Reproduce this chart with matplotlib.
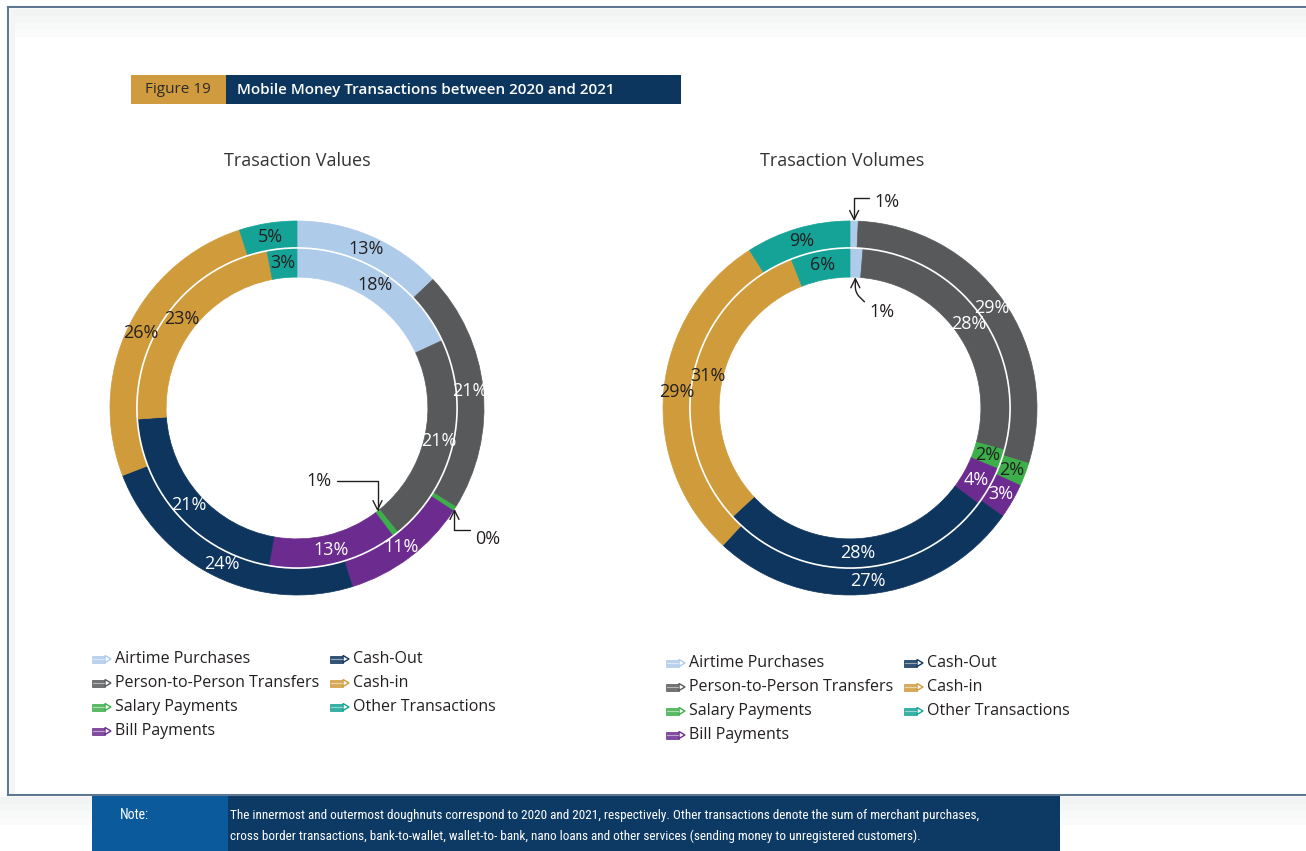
import numpy as np
import matplotlib
matplotlib.use("Agg")
import matplotlib.pyplot as plt
from matplotlib.patches import Rectangle, Polygon, Circle
from matplotlib import font_manager as fm

categories = ["Airtime Purchases", "Person-to-Person Transfers", "Salary Payments",
              "Bill Payments", "Cash-Out", "Cash-in", "Other Transactions"]

# shares in percent, clockwise from 12 o'clock
values_2020 = [18, 21, 0.6, 13, 21, 23, 3]
values_2021 = [13, 21, 0.4, 11, 24, 26, 5]
volumes_2020 = [1.3, 28, 2, 4, 28, 31, 6]
volumes_2021 = [0.7, 29, 2, 3, 27, 29, 9]

note_lines = ["The innermost and outermost doughnuts correspond to 2020 and 2021, respectively. "
              "Other transactions denote the sum of merchant purchases,",
              "cross border transactions, bank-to-wallet, wallet-to- bank, nano loans and other "
              "services (sending money to unregistered customers)."]

colors = ["#aecbea", "#58595b", "#3cae4a", "#6c2b8f", "#0e355d", "#d09b3b", "#14a396"]
label_colors = ["#231f20", "white", "#231f20", "white", "white", "#231f20", "#231f20"]

W, H = 1306, 851
names = {f.name for f in fm.fontManager.ttflist}
main_font = "Open Sans" if "Open Sans" in names else "DejaVu Sans"
narrow_font = main_font
for cand in ["Liberation Sans Narrow", "Roboto Condensed", "Open Sans Condensed",
             "DejaVu Sans Condensed"]:
    if cand in names:
        narrow_font = cand
        break
plt.rcParams["font.family"] = [main_font, "DejaVu Sans"]

fig = plt.figure(figsize=(W / 100, H / 100), dpi=100)
bg = fig.add_axes([0, 0, 1, 1])
bg.set_xlim(0, W)
bg.set_ylim(H, 0)
bg.axis("off")

# frame and soft shading
for k, c in enumerate(["#f2f3f3", "#f5f6f6", "#f8f9f9", "#fbfbfb"]):
    bg.add_patch(Rectangle((10, 9 + 7 * k), W, 7, color=c, lw=0))
    bg.add_patch(Rectangle((0, 797 + 7 * k), W, 7, color=c, lw=0))
bg.add_patch(Rectangle((10, 9), 5, 785, color="#f4f5f5", lw=0))
frame = "#5e7891"
bg.plot([8, W], [7, 7], color=frame, lw=1.5)
bg.plot([8, 8], [7, 795], color=frame, lw=1.5)
bg.plot([8, W], [795, 795], color=frame, lw=1.5)

# header
bg.add_patch(Rectangle((131, 75), 95, 29, color="#d09a3e", lw=0))
bg.add_patch(Rectangle((226, 75), 455, 29, color="#0d365e", lw=0))
bg.text(178, 89.5, "Figure 19", color="#2b2b2b", fontsize=11, ha="center", va="center")
bg.text(237, 90, "Mobile Money Transactions between 2020 and 2021", color="white",
        fontsize=11, fontweight="semibold", ha="left", va="center")

# note bar
bg.add_patch(Rectangle((92, 796), 968, 55, color="#0d3a64", lw=0))
bg.add_patch(Rectangle((92, 796), 136, 55, color="#0b5a9b", lw=0))
note_title = bg.text(120, 815, "Note:", color="white", fontsize=10, family=narrow_font,
                     fontstretch="condensed", va="center")
note_texts = [bg.text(230, 815 + 21 * i, line, color="white", fontsize=9.5, family=narrow_font,
                      fontstretch="condensed", va="center")
              for i, line in enumerate(note_lines)]
# squeeze the note so the first line ends where the original does
renderer = fig.canvas.get_renderer()
width = note_texts[0].get_window_extent(renderer).width
if width > 752:
    for t in note_texts:
        t.set_fontsize(9.5 * 752 / width)

R_OUT, R_MID, R_IN = 1.0, 0.856, 0.70


def mid_angles(vals):
    vals = np.asarray(vals, float)
    cum = np.cumsum(vals) - vals / 2
    return np.deg2rad(90 - 360 * cum / vals.sum())


def donut(cx, cy, rad, inner, outer, title, title_dx, skip):
    ax = fig.add_axes([(cx - rad) / W, 1 - (cy + rad) / H, 2 * rad / W, 2 * rad / H])
    for vals, r, w in [(outer, R_OUT, R_OUT - R_MID), (inner, R_MID, R_MID - R_IN)]:
        wedges, _ = ax.pie(vals, radius=r, colors=colors, startangle=90, counterclock=False,
                           wedgeprops=dict(width=w, linewidth=0.5))
        for wd in wedges:
            wd.set_edgecolor(wd.get_facecolor())
    ax.add_patch(Circle((0, 0), R_MID, fill=False, ec="white", lw=1.2))
    ax.set_xlim(-1, 1)
    ax.set_ylim(-1, 1)
    ax.set_aspect("equal")
    ax.axis("off")
    ax.text(title_dx, 1.32, title, ha="center", va="center", fontsize=13, color="#333333")
    for vals, rm, ring in [(outer, (R_OUT + R_MID) / 2, "out"), (inner, (R_MID + R_IN) / 2, "in")]:
        for i, (v, a) in enumerate(zip(vals, mid_angles(vals))):
            if (ring, i) in skip:
                continue
            ax.text(rm * np.cos(a), rm * np.sin(a), f"{v:.0f}%", ha="center", va="center",
                    fontsize=13, color=label_colors[i])
    return ax


arrow = dict(arrowstyle="->,head_length=0.5,head_width=0.25", color="#231f20", lw=1,
             shrinkA=2, shrinkB=0)

# Transaction values
ax1 = donut(297, 408, 187, values_2020, values_2021, "Trasaction Values", 0,
            skip={("in", 2), ("out", 2)})
a = mid_angles(values_2020)[2]
ax1.annotate(f"{values_2020[2]:.0f}%", xy=(R_IN * np.cos(a), R_IN * np.sin(a)),
             xytext=(-42, 22), textcoords="offset points", ha="center", va="center",
             fontsize=13, color="#231f20",
             arrowprops=dict(arrow, relpos=(1, 0.5),
                             connectionstyle="angle,angleA=0,angleB=90,rad=0"))
a = mid_angles(values_2021)[2]
ax1.annotate(f"{values_2021[2]:.0f}%", xy=(R_OUT * np.cos(a), R_OUT * np.sin(a)),
             xytext=(24, -22), textcoords="offset points", ha="center", va="center",
             fontsize=13, color="#231f20",
             arrowprops=dict(arrow, relpos=(0, 1.0),
                             connectionstyle="angle,angleA=0,angleB=90,rad=0"))

# Transaction volumes
ax2 = donut(850, 408, 187, volumes_2020, volumes_2021, "Trasaction Volumes", -0.04,
            skip={("in", 0), ("out", 0)})
a = mid_angles(volumes_2021)[0]
ax2.annotate(f"{volumes_2021[0]:.0f}%", xy=(R_OUT * np.cos(a), R_OUT * np.sin(a)),
             xytext=(24, 14), textcoords="offset points", ha="center", va="center",
             fontsize=13, color="#231f20",
             arrowprops=dict(arrow, relpos=(0, 0.7),
                             connectionstyle="angle,angleA=0,angleB=90,rad=0"))
a = mid_angles(volumes_2020)[0]
ax2.annotate(f"{volumes_2020[0]:.0f}%", xy=(R_IN * np.cos(a), R_IN * np.sin(a)),
             xytext=(19, -25), textcoords="offset points", ha="center", va="center",
             fontsize=13, color="#231f20",
             arrowprops=dict(arrow, relpos=(0, 0.8),
                             connectionstyle="angle,angleA=135,angleB=90,rad=6"))


def pencil(x, y, c):
    bg.add_patch(Polygon([(x, y - 3.5), (x + 13, y - 3.5), (x + 13, y + 3.5), (x, y + 3.5)],
                         closed=True, fc=c, ec=c, lw=0.6, alpha=0.85))
    bg.plot([x + 1, x + 12], [y, y], color="white", lw=0.8, alpha=0.5)
    bg.add_patch(Polygon([(x + 13, y - 3.5), (x + 19, y), (x + 13, y + 3.5)],
                         closed=True, fc="white", ec=c, lw=1))


def legend(x0, y0):
    col2 = x0 + 238
    order = [(0, 0, 0), (1, 0, 1), (2, 0, 2), (3, 0, 3), (4, 1, 0), (5, 1, 1), (6, 1, 2)]
    for i, col, row in order:
        x = x0 if col == 0 else col2
        y = y0 + 24 * row
        pencil(x, y, colors[i])
        bg.text(x + 23, y, categories[i], ha="left", va="center", fontsize=11.5, color="#231f20")


legend(92, 659)
legend(666, 663)

fig.savefig("out.png", dpi=100)
